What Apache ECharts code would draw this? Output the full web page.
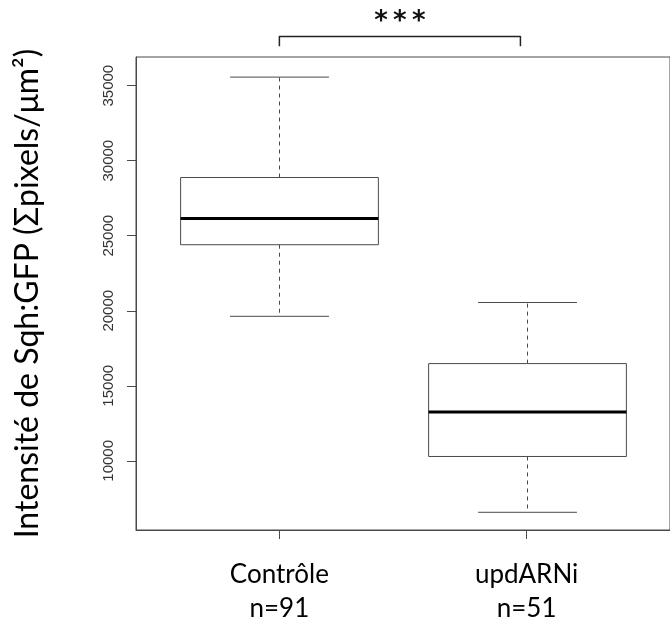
<!DOCTYPE html>
<html>
<head>
<meta charset="utf-8">
<script src="https://cdn.jsdelivr.net/npm/echarts@6/dist/echarts.min.js"></script>
<style>
  html, body { margin: 0; padding: 0; background: #fff; }
  #chart { width: 670px; height: 626px; }
</style>
</head>
<body>
<div id="chart"></div>
<script>
// groups and sample sizes
const groups = ['Contrôle', 'updARNi'];
const counts = [91, 51];
// five numbers per group: lower whisker, Q1, median, Q3, upper whisker
const controleStats = [19630, 24400, 26140, 28880, 35570];
const updARNiStats = [6570, 10290, 13260, 16480, 20550];
const yTicks = [10000, 15000, 20000, 25000, 30000, 35000];
const signifLabel = '***';

const chart = echarts.init(document.getElementById('chart'));
const ink = '#4a4a4a';

function renderBox(params, api) {
  const x = api.value(0);
  const lo = api.coord([x, api.value(1)]);
  const q1 = api.coord([x, api.value(2)]);
  const md = api.coord([x, api.value(3)]);
  const q3 = api.coord([x, api.value(4)]);
  const hi = api.coord([x, api.value(5)]);
  const half = api.size([0.4, 0])[0];
  const cap = half / 2;
  const cx = Math.round(lo[0]) + 0.5;
  const thin = { stroke: ink, lineWidth: 1, fill: null };
  const dashed = { stroke: ink, lineWidth: 1, lineDash: [4, 4], fill: null };
  return {
    type: 'group',
    children: [
      { type: 'line', shape: { x1: cx, y1: q3[1], x2: cx, y2: hi[1] }, style: dashed },
      { type: 'line', shape: { x1: cx, y1: q1[1], x2: cx, y2: lo[1] }, style: dashed },
      { type: 'line', shape: { x1: cx - cap, y1: hi[1], x2: cx + cap, y2: hi[1] }, style: thin },
      { type: 'line', shape: { x1: cx - cap, y1: lo[1], x2: cx + cap, y2: lo[1] }, style: thin },
      { type: 'rect', shape: { x: cx - half, y: q3[1], width: half * 2, height: q1[1] - q3[1] },
        style: { stroke: ink, lineWidth: 1, fill: '#fff' } },
      { type: 'line', shape: { x1: cx - half, y1: md[1], x2: cx + half, y2: md[1] },
        style: { stroke: '#000', lineWidth: 3 } }
    ]
  };
}

// significance bracket between the two groups, in data coordinates
function renderBracket(params, api) {
  const a = api.coord([1, 38280]);
  const b = api.coord([1.975, 38280]);
  const a2 = api.coord([1, 37620]);
  const b2 = api.coord([1.975, 37620]);
  const t = api.coord([(1 + 1.975) / 2, 39250]);
  return {
    type: 'group',
    children: [
      { type: 'polyline', shape: { points: [a2, a, b, b2] },
        style: { stroke: '#222', lineWidth: 1.5, fill: null, lineJoin: 'round' } },
      { type: 'text', x: t[0], y: t[1],
        style: { text: signifLabel.split('').join('\u2009'), font: 'bold 26px "DejaVu Sans"', fill: '#111',
                 textAlign: 'center', textVerticalAlign: 'middle' } }
    ]
  };
}

chart.setOption({
  animation: false,
  grid: { left: 136, right: -9, top: 57, bottom: 88, show: true, borderColor: ink, borderWidth: 1 },
  xAxis: {
    type: 'value', min: 0.42, max: 2.58,
    splitLine: { show: false },
    axisLine: { show: true, lineStyle: { color: ink } },
    axisTick: { show: true, length: 9, customValues: [1, 2], lineStyle: { color: ink } },
    axisLabel: {
      customValues: [1, 2], margin: 28,
      fontFamily: 'Lato', fontSize: 26, lineHeight: 34, color: '#000',
      formatter: v => groups[v - 1] + '\nn=' + counts[v - 1]
    }
  },
  yAxis: {
    type: 'value', min: 5390, max: 36910,
    name: 'Intensité de Sqh:GFP (Σpixels/μm²)',
    nameLocation: 'middle', nameRotate: 90, nameGap: 92,
    nameTextStyle: { fontFamily: 'Lato', fontSize: 32, color: '#000' },
    splitLine: { show: false },
    axisLine: { show: true, lineStyle: { color: ink } },
    axisTick: { show: true, length: 9, customValues: yTicks, lineStyle: { color: ink } },
    axisLabel: {
      customValues: yTicks, rotate: 90, margin: 20,
      fontFamily: 'Liberation Sans', fontSize: 15, color: '#333',
      formatter: v => String(v)
    }
  },
  series: [
    {
      type: 'custom', renderItem: renderBox,
      encode: { x: 0, y: [1, 2, 3, 4, 5] },
      data: [[1].concat(controleStats), [2].concat(updARNiStats)]
    },
    {
      type: 'custom', renderItem: renderBracket, clip: false,
      data: [[1, 38280]], silent: true
    }
  ]
});
</script>
</body>
</html>
